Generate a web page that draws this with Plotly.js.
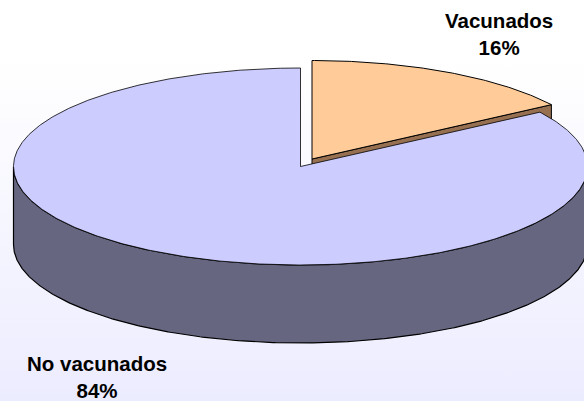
<!DOCTYPE html>
<html>
<head>
<meta charset="utf-8">
<script src="https://cdn.plot.ly/plotly-3.0.1.min.js"></script>
<style>
html,body{margin:0;padding:0;width:584px;height:401px;overflow:hidden;background:linear-gradient(to bottom,#ffffff 0%,#ffffff 15%,#ececff 100%);}
#chart{width:584px;height:401px;}
</style>
</head>
<body>
<div id="chart"></div>
<script>
// Data
const categories = ["Vacunados", "No vacunados"];
const values = [15.7, 84.3];
const percentLabels = ["16%", "84%"];

// Pie geometry, in plot units
const RX = 287, RY = 98.5, DEPTH = 78;
const centers = { slice: [312, 159], main: [300.5, 166.5] };
const labelPos = [[499, 33.5], [96.5, 376.5]];
const colors = { sliceTop: "#FFCC99", sliceSide: "#967050", mainTop: "#CCCCFF", mainSide: "#666680", edge: "#000000" };

const total = values.reduce((a, b) => a + b, 0);
const splitDeg = values[0] / total * 360;

function pt(c, deg, dy) {
  const r = deg * Math.PI / 180;
  return [c[0] + RX * Math.sin(r), c[1] - RY * Math.cos(r) + (dy || 0)];
}
function arc(c, from, to, dy) {
  const out = [], n = Math.ceil(Math.abs(to - from) * 2);
  for (let i = 0; i <= n; i++) out.push(pt(c, from + (to - from) * i / n, dy));
  return out;
}
function poly(points, fill, width) {
  return {
    type: "scatter", mode: "lines", hoverinfo: "skip", showlegend: false,
    x: points.map(p => p[0]), y: points.map(p => p[1]),
    fill: "toself", fillcolor: fill,
    line: { color: colors.edge, width: width }
  };
}

const outer = pt(centers.slice, splitDeg);
const sliceApex = centers.slice;
const sliceSide = [sliceApex, outer, [outer[0], outer[1] + DEPTH], [sliceApex[0], sliceApex[1] + DEPTH], sliceApex];
const mainSide = arc(centers.main, 90, 270).concat(arc(centers.main, 270, 90, DEPTH));
mainSide.push(mainSide[0]);
const mainTop = [centers.main].concat(arc(centers.main, splitDeg, 360), [centers.main]);
const sliceTop = [centers.slice].concat(arc(centers.slice, 0, splitDeg), [centers.slice]);

const traces = [
  poly(sliceSide, colors.sliceSide, 1),
  poly(mainSide, colors.mainSide, 1.2),
  poly(mainTop, colors.mainTop, 0.8),
  poly(sliceTop, colors.sliceTop, 1)
];

const annotations = categories.map((name, i) => ({
  x: labelPos[i][0], y: labelPos[i][1], xref: "x", yref: "y",
  text: "<b>" + name + "</b><br><b>" + percentLabels[i] + "</b>",
  showarrow: false, align: "center", xanchor: "center", yanchor: "middle",
  font: { family: "Liberation Sans, Arial, sans-serif", size: 20.5, color: "#000000" }
}));

const layout = {
  width: 584, height: 401,
  margin: { l: 0, r: 0, t: 0, b: 0, pad: 0 },
  paper_bgcolor: "rgba(0,0,0,0)", plot_bgcolor: "rgba(0,0,0,0)",
  xaxis: { range: [0, 584], visible: false, fixedrange: true },
  yaxis: { range: [401, 0], visible: false, fixedrange: true },
  showlegend: false, hovermode: false,
  annotations: annotations
};
Plotly.newPlot("chart", traces, layout, { displayModeBar: false, staticPlot: true });
</script>
</body>
</html>
